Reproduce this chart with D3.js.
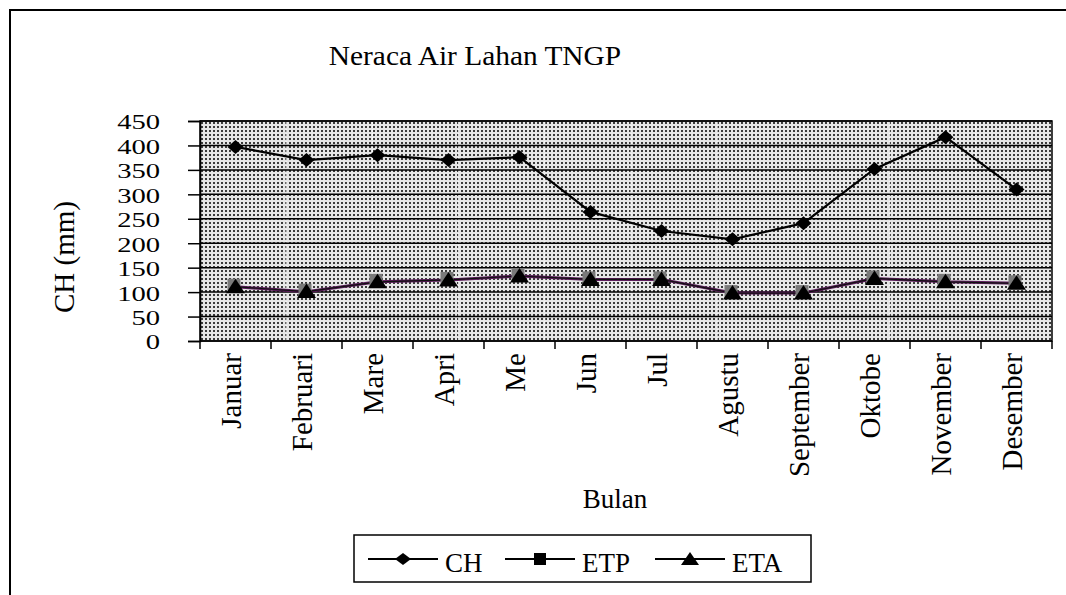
<!DOCTYPE html>
<html><head><meta charset="utf-8">
<script src="https://cdn.jsdelivr.net/npm/d3@7/dist/d3.min.js"></script>
<style>body{margin:0;background:#fff}svg{display:block}text{font-family:"Liberation Serif","Times New Roman",serif;fill:#000}</style>
</head><body><svg id="c" width="1066" height="595"></svg>
<script>
const months = ["Januar","Februari","Mare","Apri","Me","Jun","Jul","Agustu","September","Oktobe","November","Desember"];
const CH  = [397,370,380,370,376,264,225,208,241,352,417,310];
const ETP = [111,101,121,125,133,126,126,98,98,128,121,118];
const ETA = [111,101,121,125,133,126,126,98,98,128,121,118];
const yTicks = [0,50,100,150,200,250,300,350,400,450];
const seriesNames = ["CH","ETP","ETA"];

const svg = d3.select("#c");
const L=200, R=1052, T=121, B=341;
const x = d3.scaleBand().domain(months).range([L,R]).padding(0);
const y = d3.scaleLinear().domain([0,450]).range([B,T]);

// pattern
const defs = svg.append("defs");
const pat = defs.append("pattern").attr("id","dots").attr("patternUnits","userSpaceOnUse")
  .attr("width",4).attr("height",4).attr("x",L).attr("y",T);
pat.append("rect").attr("width",4).attr("height",4).attr("fill","#e6e6e6");
pat.append("rect").attr("x",1).attr("y",1).attr("width",2).attr("height",2).attr("fill","#3a3a3a");

// outer frame
svg.append("path").attr("d","M10,595 L10,10 L1066,10").attr("fill","none").attr("stroke","#000").attr("stroke-width",2);

// plot area
svg.append("rect").attr("x",L).attr("y",T).attr("width",R-L).attr("height",B-T).attr("fill","url(#dots)");
// faint tile seams of the original pattern fill
svg.append("g").selectAll("line").data(d3.range(1,10)).join("line")
  .attr("x1",d=>L+d*86.2).attr("x2",d=>L+d*86.2).attr("y1",T).attr("y2",B)
  .attr("stroke","#fff").attr("stroke-width",1).attr("stroke-dasharray","3,1").attr("opacity",0.85);

// grid lines
svg.append("g").selectAll("line").data(yTicks).join("line")
  .attr("x1",L).attr("x2",R).attr("y1",d=>y(d)).attr("y2",d=>y(d))
  .attr("stroke","#000").attr("stroke-width",1.5);
svg.append("rect").attr("x",L).attr("y",T).attr("width",R-L).attr("height",B-T).attr("fill","none").attr("stroke","#000").attr("stroke-width",1.5);

// y axis
const yAxis = svg.append("g").attr("transform",`translate(${L},0)`)
  .call(d3.axisLeft(y).tickValues(yTicks).tickSize(12).tickPadding(28).tickFormat(d3.format("d")));
yAxis.select(".domain").attr("stroke","#000").attr("stroke-width",1.5);
yAxis.selectAll(".tick line").attr("stroke","#000").attr("stroke-width",1.5);
yAxis.selectAll(".tick text").attr("font-size",22).attr("font-family","Liberation Serif").attr("fill","#000")
  .attr("dy","0.36em")
  .attr("transform",function(){ const xx=+d3.select(this).attr("x"); return `translate(${xx*(1-1.3)},0) scale(1.3,1)`;});

// x axis
const xAxis = svg.append("g").attr("transform",`translate(0,${B})`);
const edges = months.map(m=>x(m)).concat([R]);
xAxis.selectAll("line.edge").data(edges).join("line").attr("class","edge")
  .attr("x1",d=>d).attr("x2",d=>d).attr("y1",0).attr("y2",8).attr("stroke","#000").attr("stroke-width",1.5);
svg.append("g").selectAll("text").data(months).join("text")
  .attr("transform",d=>`translate(${x(d)+x.bandwidth()/2+5},353) rotate(-90)`)
  .attr("text-anchor","end").attr("font-size",29).text(d=>d);

// title & axis titles
svg.append("text").attr("x",475).attr("y",65).attr("text-anchor","middle").attr("font-size",28)
  .attr("transform","translate(-23.75,0) scale(1.05,1)").text("Neraca Air Lahan TNGP");
svg.append("text").attr("transform","translate(74,257) rotate(-90)").attr("text-anchor","middle").attr("font-size",29).text("CH (mm)");
svg.append("text").attr("x",615).attr("y",508).attr("text-anchor","middle").attr("font-size",27).text("Bulan");

// lines
const cx = d=>x(d)+x.bandwidth()/2;
const line = d3.line().x(d=>cx(d[0])).y(d=>y(d[1]));
svg.append("path").datum(months.map((m,i)=>[m,CH[i]])).attr("d",line).attr("fill","none").attr("stroke","#000").attr("stroke-width",2.2);
svg.append("path").datum(months.map((m,i)=>[m,ETP[i]])).attr("d",line).attr("fill","none").attr("stroke","#5a1a5a").attr("stroke-width",3);
svg.append("path").datum(months.map((m,i)=>[m,ETA[i]])).attr("d",line).attr("fill","none").attr("stroke","#111").attr("stroke-width",1.2);

const diamond = "M0,-7 L8,0 L0,7 L-8,0 Z";
const tri = "M0,-8 L9.5,6.5 L-9.5,6.5 Z";
svg.append("g").selectAll("path").data(months).join("path")
  .attr("transform",(d,i)=>`translate(${cx(d)},${y(CH[i])})`).attr("d",diamond).attr("fill","#000");
svg.append("g").selectAll("rect").data(months).join("rect")
  .attr("x",(d,i)=>cx(d)-8).attr("y",(d,i)=>y(ETP[i])-8).attr("width",13).attr("height",13).attr("fill","#7a7a7a");
svg.append("g").selectAll("path").data(months).join("path")
  .attr("transform",(d,i)=>`translate(${cx(d)},${y(ETA[i])})`).attr("d",tri).attr("fill","#000");

// legend
const lg = svg.append("g");
lg.append("rect").attr("x",354).attr("y",535).attr("width",457).attr("height",47).attr("fill","#fff").attr("stroke","#000").attr("stroke-width",1.5);
const items = [{n:seriesNames[0],x:368,m:"d"},{n:seriesNames[1],x:505,m:"s"},{n:seriesNames[2],x:655,m:"t"}];
items.forEach(it=>{
  lg.append("line").attr("x1",it.x).attr("x2",it.x+70).attr("y1",559).attr("y2",559).attr("stroke","#000").attr("stroke-width",2);
  const mx=it.x+35;
  if(it.m==="d") lg.append("path").attr("transform",`translate(${mx},559)`).attr("d","M0,-6 L8,0 L0,6 L-8,0 Z");
  if(it.m==="s") lg.append("rect").attr("x",mx-6).attr("y",553).attr("width",12).attr("height",12);
  if(it.m==="t") lg.append("path").attr("transform",`translate(${mx},559)`).attr("d","M0,-7 L9,6 L-9,6 Z");
  lg.append("text").attr("x",it.x+77).attr("y",572).attr("font-size",27).text(it.n);
});
</script></body></html>
